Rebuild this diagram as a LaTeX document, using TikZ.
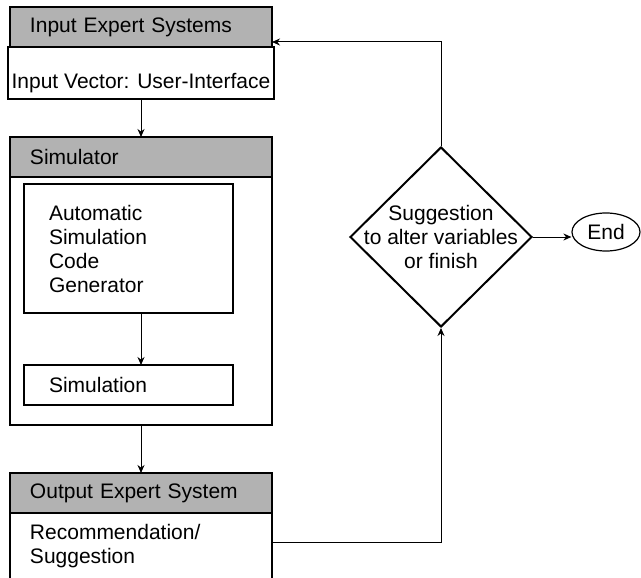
\documentclass[tikz,border=0pt]{standalone}
\usepackage{fontspec}
\setmainfont{Liberation Sans}
\usetikzlibrary{positioning,shapes.geometric,arrows.meta}
\begin{document}
\begin{tikzpicture}[x=1pt,y=-1pt,
    font=\fontsize{21}{24}\selectfont,
    box/.style={draw,line width=2pt,outer sep=0pt,rectangle,anchor=north west},
    hdr/.style={box,fill=black!30,minimum width=262pt,minimum height=40pt,
      text width=222pt,inner xsep=20pt,align=left},
    body/.style={box,minimum width=262pt},
    inbox/.style={box,minimum width=209pt,text width=159pt,inner xsep=25pt,align=left},
    decide/.style={diamond,draw,line width=2pt,minimum width=182pt,minimum height=180pt,inner sep=0pt},
    stop/.style={ellipse,draw,line width=1.2pt,minimum width=68pt,minimum height=38pt,inner sep=0pt},
    arr/.style={-{Stealth[length=8pt,width=7pt]},line width=1pt}]
  \useasboundingbox (0,0) rectangle (641,578);
  \clip (0,0) rectangle (641,578);

  % Input expert systems
  \node[hdr] (inhdr) at (10,7) {Input Expert Systems};
  \node[body,below=0pt of inhdr,minimum height=52pt,text height=36pt] (inbody) {Input Vector: User-Interface};

  % Simulator with its two inner boxes
  \node[hdr] (simhdr) at (10,137) {Simulator};
  \node[body,below=0pt of simhdr,minimum height=248pt] (simbody) {};
  \node[inbox,minimum height=129pt] (acsg) at (24,184) {Automatic\\Simulation\\Code\\Generator};
  \node[inbox,minimum height=40pt] (simu) at (24,365) {Simulation};

  % Output expert system
  \node[hdr] (outhdr) at (10,473) {Output Expert System};
  \node[body,below=0pt of outhdr,minimum height=66pt,text width=222pt,inner xsep=20pt,align=left] (outbody) {Recommendation/\\Suggestion};

  % Decision and end
  \node[decide,label={[align=center]center:Suggestion\\to alter variables\\or finish}] (dec) at (441,237) {};
  \node[stop] (endn) at (606,232) {End};

  \coordinate (turn) at (441,542);
  \coordinate (back) at (441,42);

  \draw[arr] (inbody.south) -- (simhdr.north);
  \draw[arr] (acsg.south -| simbody.south) -- (simu.north -| simbody.south);
  \draw[arr] (simbody.south) -- (outhdr.north);
  \draw[arr] (outbody.east |- turn) -- (turn) -- (dec.south);
  \draw[arr] (dec.north) -- (back) -- (inhdr.east |- back);
  \draw[arr] (dec.east) -- (dec.east -| endn.west);
\end{tikzpicture}
\end{document}
